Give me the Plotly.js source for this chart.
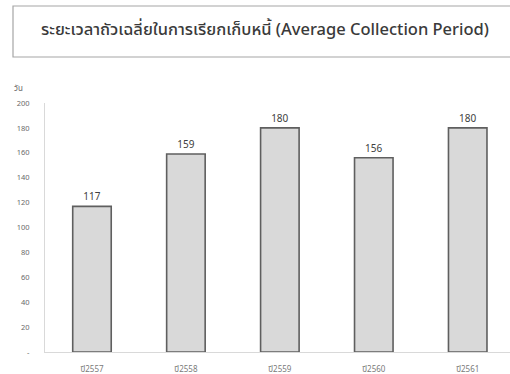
<!DOCTYPE html>
<html>
<head>
<meta charset="utf-8">
<script src="https://cdn.plot.ly/plotly-3.0.1.min.js"></script>
<style>
  html, body { margin: 0; padding: 0; background: #fff; }
  #chart { width: 510px; height: 374px; }
</style>
</head>
<body>
<div id="chart"></div>
<script>
// Average collection period (days) by fiscal year
const years = ['ปี2557', 'ปี2558', 'ปี2559', 'ปี2560', 'ปี2561'];
const days = [117, 159, 180, 156, 180];
const yTickVals = [0, 20, 40, 60, 80, 100, 120, 140, 160, 180, 200];
const yTickText = ['-', '20', '40', '60', '80', '100', '120', '140', '160', '180', '200'];

const font = '"Noto Sans", "Noto Sans Thai", "DejaVu Sans", sans-serif';

const trace = {
  type: 'bar',
  x: years,
  y: days,
  text: days.map(String),
  textposition: 'outside',
  cliponaxis: false,
  textfont: { family: font, size: 10, color: '#404040' },
  marker: { color: '#d9d9d9', line: { color: '#5f5f5f', width: 1.6 } },
  hoverinfo: 'x+y'
};

const layout = {
  width: 510,
  height: 374,
  margin: { l: 45, r: 0, t: 103, b: 22 },
  paper_bgcolor: '#fff',
  plot_bgcolor: '#fff',
  showlegend: false,
  bargap: 0.59,
  title: {
    text: 'ระยะเวลาถัวเฉลี่ยในการเรียกเก็บหนี้ (Average Collection Period)',
    font: { family: font, size: 16.5, weight: 500, color: '#3a3a3a' },
    x: 265 / 510, xanchor: 'center',
    y: 1 - 29 / 374, yanchor: 'middle'
  },
  xaxis: {
    type: 'category',
    range: [-0.5, 4.45],
    showline: true, linecolor: '#d9d9d9', linewidth: 1,
    showgrid: false, zeroline: false, ticks: '',
    ticklabelstandoff: 9,
    tickfont: { family: font, size: 8, color: '#7a7a7a' }
  },
  yaxis: {
    range: [0, 200],
    tickvals: yTickVals,
    ticktext: yTickText,
    showline: true, linecolor: '#d9d9d9', linewidth: 1,
    showgrid: false, zeroline: false, ticks: '',
    ticklabelstandoff: 13,
    tickfont: { family: font, size: 7.5, color: '#6a6a6a' }
  },
  shapes: [{
    type: 'rect', xref: 'paper', yref: 'paper',
    x0: (13 - 45) / 465, x1: (513 - 45) / 465,
    y0: (352 - 57) / 249, y1: (352 - 6) / 249,
    line: { color: '#a6a6a6', width: 1.2 },
    fillcolor: 'rgba(0,0,0,0)'
  }],
  annotations: [{
    text: 'วัน', xref: 'paper', yref: 'paper',
    x: (18 - 45) / 465, y: (352 - 87) / 249,
    xanchor: 'center', yanchor: 'middle', showarrow: false,
    font: { family: font, size: 8, color: '#6a6a6a' }
  }]
};

Plotly.newPlot('chart', [trace], layout, { displayModeBar: false, staticPlot: true });
</script>
</body>
</html>
